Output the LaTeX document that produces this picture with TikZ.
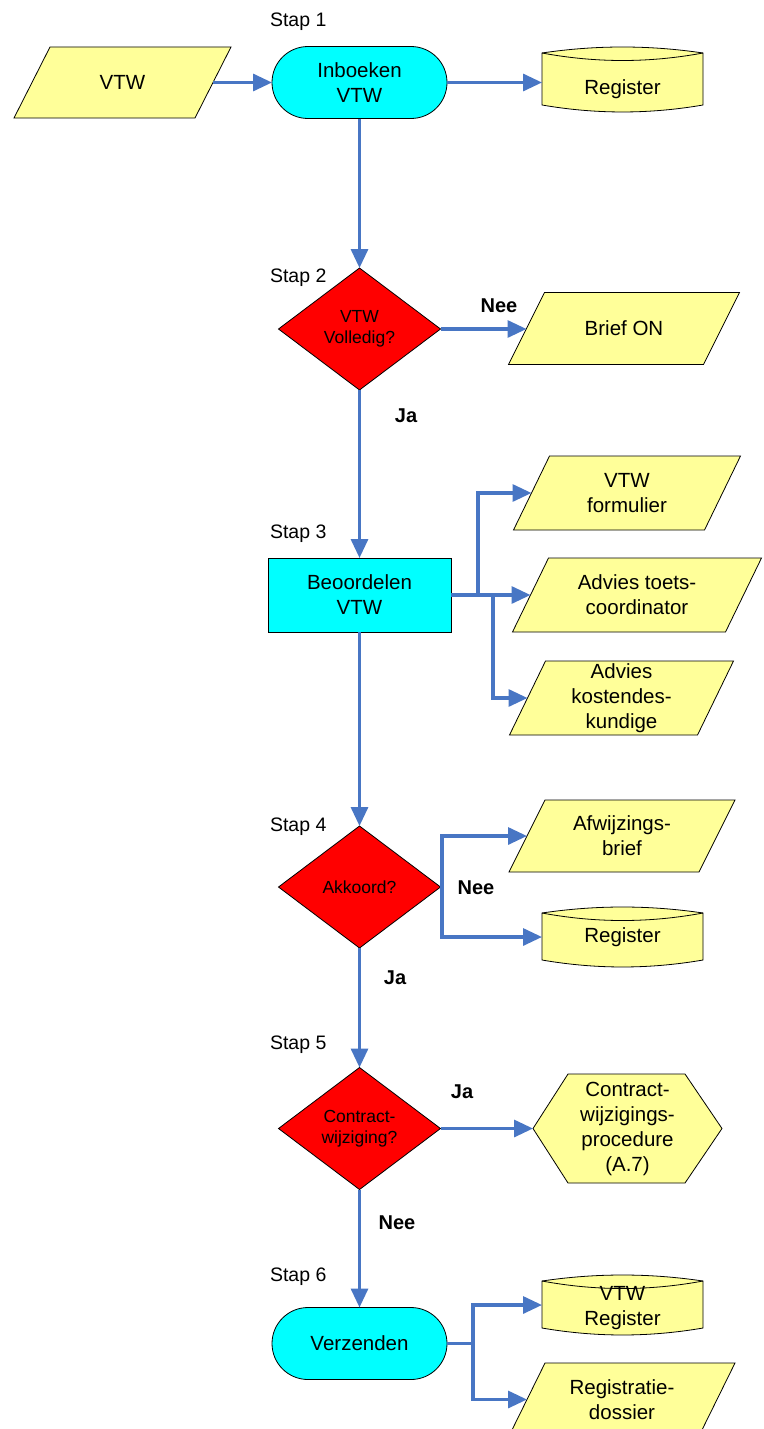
\documentclass[tikz,border=0pt]{standalone}
\usepackage{fontspec}
\setmainfont{Liberation Sans}
\usetikzlibrary{arrows.meta,shapes.geometric,calc,backgrounds}

\definecolor{flowblue}{RGB}{72,118,196}
\definecolor{docyellow}{RGB}{255,255,153}
\definecolor{actcyan}{RGB}{0,255,255}
\definecolor{decred}{RGB}{255,0,0}

\begin{document}
\begin{tikzpicture}[x=1pt,y=-1pt,
  every node/.style={inner sep=0pt, outer sep=0pt, align=center},
  maintext/.style={font=\fontsize{20.5}{25}\selectfont},
  flow/.style={draw=flowblue, line width=3.2pt, -{Triangle[length=19pt,width=17pt]}},
  link/.style={draw=flowblue, line width=3.2pt},
  outline/.style={draw=black, line width=0.8pt},
  iobox/.style={maintext, minimum width=#1, minimum height=73pt},
  iofill/.style={outline, fill=docyellow},
  storebox/.style={minimum width=161pt, minimum height=#1},
  storefill/.style={outline, fill=docyellow},
  term/.style={maintext, outline, fill=actcyan, rounded corners=36pt,
    minimum width=175pt, minimum height=72pt},
  procbox/.style={maintext, outline, fill=actcyan, minimum width=183pt, minimum height=74pt},
  decision/.style={diamond, outline, fill=decred, aspect=1.33,
    minimum width=162pt, minimum height=122pt, font=\fontsize{17.5}{21}\selectfont},
  steplabel/.style={anchor=base west, font=\fontsize{19.5}{23}\selectfont},
  answer/.style={font=\bfseries\fontsize{20}{24}\selectfont},
]
\useasboundingbox (0,0) rectangle (763,1429);

% ---------- step 1 ----------
\node[steplabel] (s1) at (270,27) {Stap 1};
\node[iobox=181pt, minimum height=71pt] (vtw) at (122.5,82.5) {VTW};
\node[term] (inb) at (359.5,82.5) {Inboeken\\VTW};
\node[storebox=65pt] (reg1) at (622.5,79.5) {};
\node[maintext] (reg1txt) at (622.5,89.5) {Register};

% ---------- step 2 ----------
\node[steplabel] (s2) at (270,282) {Stap 2};
\node[decision] (d2) at (359.5,329) {VTW\\Volledig?};
\node[iobox=195pt, minimum height=72pt] (brief) at (624,328.5) {Brief ON};

% ---------- step 3 ----------
\node[steplabel] (s3) at (270,538) {Stap 3};
\node[procbox] (beo) at (359.5,595) {Beoordelen\\VTW};
\node[iobox=191pt, minimum height=74pt] (formulier) at (627,493) {VTW\\formulier};
\node[iobox=213pt, minimum height=74pt] (toets) at (637,595) {Advies toets-\\coordinator};
\node[iobox=188pt, minimum height=74pt] (kosten) at (621.5,698) {Advies\\kostendes-\\kundige};

% ---------- step 4 ----------
\node[steplabel] (s4) at (270,831) {Stap 4};
\node[decision] (d4) at (359.5,887) {Akkoord?};
\node[iobox=190pt, minimum height=72pt] (afwijz) at (622,836) {Afwijzings-\\brief};
\node[storebox=60pt] (reg2) at (622.5,937) {};
\node[maintext] (reg2txt) at (622.5,937.5) {Register};

% ---------- step 5 ----------
\node[steplabel] (s5) at (270,1049) {Stap 5};
\node[decision] (d5) at (359.5,1128.5) {Contract-\\wijziging?};
\node[maintext, minimum width=189pt, minimum height=109pt] (proc) at (627.5,1128.5)
  {Contract-\\wijzigings-\\procedure\\(A.7)};

% ---------- step 6 ----------
\node[steplabel] (s6) at (270,1281) {Stap 6};
\node[term] (verz) at (359.5,1343.5) {Verzenden};
\node[storebox=60pt] (reg3) at (622.5,1305) {};
\node[maintext] (reg3txt) at (622.5,1308.5) {VTW\\Register};
\node[iobox=190pt, minimum height=73pt] (dossier) at (622,1399.5) {Registratie-\\dossier};

% ---------- outlines of documents, stores and the hexagon ----------
\begin{scope}[on background layer]
  \fill[white] (0,0) rectangle (763,1429);
  \foreach \n in {vtw,brief,formulier,toets,kosten,afwijz,dossier}
    \filldraw[iofill] ($(\n.north west)+(18,0)$) -- ($(\n.north east)+(18,0)$)
      -- ($(\n.south east)+(-18,0)$) -- ($(\n.south west)+(-18,0)$) -- cycle;
  \foreach \n in {reg1,reg2,reg3} {
    \filldraw[storefill] ($(\n.north west)+(0,6)$)
      .. controls ($(\n.north west)+(54,-2)$) and ($(\n.north east)+(-54,-2)$) .. ($(\n.north east)+(0,6)$)
      -- ($(\n.south east)+(0,-7)$)
      .. controls ($(\n.south east)+(-54,2.3)$) and ($(\n.south west)+(54,2.3)$) .. ($(\n.south west)+(0,-7)$)
      -- cycle;
    \draw[outline] ($(\n.north west)+(0,6)$)
      .. controls ($(\n.north west)+(54,16)$) and ($(\n.north east)+(-54,16)$) .. ($(\n.north east)+(0,6)$);
  }
  \filldraw[iofill] (proc.west) -- ($(proc.north west)+(35,0)$) -- ($(proc.north east)+(-37,0)$)
    -- (proc.east) -- ($(proc.south east)+(-37,0)$) -- ($(proc.south west)+(35,0)$) -- cycle;
\end{scope}

% ---------- connectors ----------
\coordinate (fork3a) at (478,595);
\coordinate (fork3b) at (493,595);
\coordinate (fork4) at (442,887);
\coordinate (fork6) at (473,1343.5);

\draw[flow] (vtw.east) -- (inb.west);
\draw[flow] (inb.east) -- (inb.east -| reg1.west);
\draw[flow] (inb.south) -- (d2.north);
\draw[flow] (d2.east) -- (d2.east -| brief.west);
\draw[flow] (d2.south) -- (beo.north);

\draw[flow] (beo.east) -- (toets.west);
\draw[flow] (fork3a) |- (formulier.west);
\draw[flow] (fork3b) |- (kosten.west);
\draw[flow] (beo.south) -- (d4.north);

\draw[link] (d4.east) -- (fork4);
\draw[flow] (fork4) |- (afwijz.west);
\draw[flow] (fork4) |- (reg2.west);
\draw[flow] (d4.south) -- (d5.north);

\draw[flow] (d5.east) -- (proc.west);
\draw[flow] (d5.south) -- (verz.north);

\draw[link] (verz.east) -- (fork6);
\draw[flow] (fork6) |- (reg3.west);
\draw[flow] (fork6) |- (dossier.west);

% ---------- answers ----------
\node[answer] (nee2) at (499,306) {Nee};
\node[answer] (ja2) at (406,416) {Ja};
\node[answer] (nee4) at (476,888) {Nee};
\node[answer] (ja4) at (395,978) {Ja};
\node[answer] (ja5) at (462,1092) {Ja};
\node[answer] (nee5) at (397,1223) {Nee};
\end{tikzpicture}
\end{document}
